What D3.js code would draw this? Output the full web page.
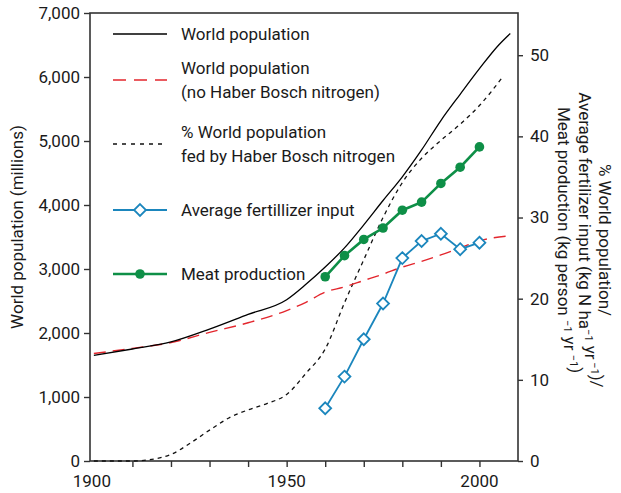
<!DOCTYPE html>
<html>
<head>
<meta charset="utf-8">
<script src="https://cdn.jsdelivr.net/npm/d3@7"></script>
<style>
  body { margin: 0; background: #fff; }
  svg text { font-family: Roboto, "Noto Sans", sans-serif; fill: #1a1a1a; }
</style>
</head>
<body>
<div id="chart"></div>
<script>
// world population (millions), left axis
const popYears = [1900, 1910, 1920, 1930, 1940, 1950, 1955, 1960, 1965, 1970, 1975, 1980, 1985, 1990, 1995, 2000, 2005, 2008];
const popValues = [1650, 1750, 1860, 2060, 2290, 2520, 2760, 3030, 3330, 3690, 4070, 4440, 4860, 5320, 5730, 6130, 6500, 6680];

// world population without Haber Bosch nitrogen, left axis
const noHbYears = [1900, 1910, 1920, 1930, 1940, 1950, 1955, 1960, 1965, 1970, 1975, 1980, 1985, 1990, 1995, 2000, 2008];
const noHbValues = [1680, 1760, 1850, 2010, 2160, 2350, 2480, 2640, 2720, 2820, 2920, 3030, 3120, 3220, 3330, 3440, 3520];

// % world population fed by Haber Bosch nitrogen, right axis
const fedYears = [1900, 1910, 1915, 1920, 1925, 1930, 1935, 1940, 1945, 1950, 1955, 1960, 1965, 1970, 1975, 1980, 1985, 1990, 1995, 2000, 2006];
const fedValues = [0, 0, 0.2, 0.8, 2.2, 3.8, 5.3, 6.3, 7.1, 8.2, 10.8, 13.8, 19.5, 24.8, 30, 34.3, 37.3, 39.5, 41.5, 43.8, 47.3];

// average fertilizer input and meat production, right axis
const pointYears = [1960, 1965, 1970, 1975, 1980, 1985, 1990, 1995, 2000];
const fertValues = [6.5, 10.4, 15.0, 19.4, 25.0, 27.1, 28.0, 26.1, 26.9];
const meatValues = [22.7, 25.3, 27.3, 28.7, 30.9, 31.9, 34.2, 36.2, 38.7];

const leftTicks = [0, 1000, 2000, 3000, 4000, 5000, 6000, 7000];
const rightTicks = [0, 10, 20, 30, 40, 50];
const xTicks = [1910, 1920, 1930, 1940, 1950, 1960, 1970, 1980, 1990, 2000];
const xLabels = [1900, 1950, 2000];

const width = 621;
const height = 493;
const margin = { top: 13, right: 103, bottom: 32, left: 90 };

const blue = '#1b86bd';
const green = '#0e8f47';
const red = '#e3262d';

const svg = d3.select('#chart')
    .append('svg')
    .attr('width', width)
    .attr('height', height);

const x = d3.scaleLinear()
    .domain([1899, 2010])
    .range([margin.left, width - margin.right]);

const yLeft = d3.scaleLinear()
    .domain([0, 7000])
    .range([height - margin.bottom, margin.top]);

const yRight = d3.scaleLinear()
    .domain([0, 55.2])
    .range([height - margin.bottom, margin.top]);

// axes
const leftAxis = svg.append('g')
    .attr('transform', `translate(${margin.left},0)`)
    .call(d3.axisLeft(yLeft).tickValues(leftTicks).tickFormat(d3.format(',')).tickSize(6).tickPadding(4));

const rightAxis = svg.append('g')
    .attr('transform', `translate(${width - margin.right},0)`)
    .call(d3.axisRight(yRight).tickValues(rightTicks).tickSize(5).tickPadding(7));

const bottomAxis = svg.append('g')
    .attr('transform', `translate(0,${height - margin.bottom})`)
    .call(d3.axisBottom(x).tickValues(xTicks).tickFormat('').tickSize(6));

[leftAxis, rightAxis, bottomAxis].forEach(a => {
    a.select('.domain').remove();
    a.selectAll('line').attr('stroke', '#333').attr('stroke-width', 1.4);
    a.selectAll('text').style('font-size', '17px').attr('fill', '#1a1a1a');
});

svg.append('g')
    .selectAll('text')
    .data(xLabels)
    .join('text')
    .attr('x', d => x(d) - (d === 1900 ? 2 : 0))
    .attr('y', height - 6)
    .attr('text-anchor', 'middle')
    .style('font-size', '17px')
    .text(d => d);

// frame
svg.append('rect')
    .attr('x', margin.left)
    .attr('y', margin.top)
    .attr('width', width - margin.left - margin.right)
    .attr('height', height - margin.top - margin.bottom)
    .attr('fill', 'none')
    .attr('stroke', '#333')
    .attr('stroke-width', 1.6);

// axis titles
svg.append('text')
    .attr('transform', `translate(23,227) rotate(-90)`)
    .attr('text-anchor', 'middle')
    .style('font-size', '17px')
    .text('World population (millions)');

const rightTitle = svg.append('g')
    .attr('transform', `translate(${width - 22},240) rotate(90)`);

const titleLines = [
    { dy: 0, parts: [['% World population/']] },
    { dy: 20, parts: [['Average fertilizer input (kg N ha'], ['−1', 1], [' yr'], [' −1', 1], [')/']] },
    { dy: 41, parts: [['Meat production (kg person '], ['−1', 1], [' yr '], ['−1', 1], [')']] },
];

titleLines.forEach(l => {
    const t = rightTitle.append('text')
        .attr('x', 0)
        .attr('y', l.dy)
        .attr('text-anchor', 'middle')
        .style('font-size', '17px');
    l.parts.forEach(p => {
        t.append('tspan')
            .attr('dy', p[1] ? -6 : 0)
            .style('font-size', p[1] ? '11px' : null)
            .text(p[0]);
        if (p[1]) t.append('tspan').attr('dy', 6).text('');
    });
});

// lines
const popLine = d3.line().x(d => x(d[0])).y(d => yLeft(d[1])).curve(d3.curveMonotoneX);
const rightLine = d3.line().x(d => x(d[0])).y(d => yRight(d[1])).curve(d3.curveMonotoneX);
const straightLine = d3.line().x(d => x(d[0])).y(d => yRight(d[1]));

svg.append('path')
    .datum(d3.zip(fedYears, fedValues))
    .attr('d', rightLine)
    .attr('fill', 'none')
    .attr('stroke', '#111')
    .attr('stroke-width', 1.3)
    .attr('stroke-dasharray', '4,4');

svg.append('path')
    .datum(d3.zip(noHbYears, noHbValues))
    .attr('d', popLine)
    .attr('fill', 'none')
    .attr('stroke', red)
    .attr('stroke-width', 1.4)
    .attr('stroke-dasharray', '12,7');

svg.append('path')
    .datum(d3.zip(popYears, popValues))
    .attr('d', popLine)
    .attr('fill', 'none')
    .attr('stroke', '#000')
    .attr('stroke-width', 1.3);

svg.append('path')
    .datum(d3.zip(pointYears, fertValues))
    .attr('d', straightLine)
    .attr('fill', 'none')
    .attr('stroke', blue)
    .attr('stroke-width', 1.8);

svg.append('path')
    .datum(d3.zip(pointYears, meatValues))
    .attr('d', straightLine)
    .attr('fill', 'none')
    .attr('stroke', green)
    .attr('stroke-width', 2.6);

const diamond = d3.symbol().type(d3.symbolDiamond2).size(90);

svg.append('g')
    .selectAll('path')
    .data(d3.zip(pointYears, fertValues))
    .join('path')
    .attr('transform', d => `translate(${x(d[0])},${yRight(d[1])})`)
    .attr('d', diamond)
    .attr('fill', '#fff')
    .attr('stroke', blue)
    .attr('stroke-width', 1.8);

svg.append('g')
    .selectAll('circle')
    .data(d3.zip(pointYears, meatValues))
    .join('circle')
    .attr('cx', d => x(d[0]))
    .attr('cy', d => yRight(d[1]))
    .attr('r', 4.8)
    .attr('fill', green);

// legend
const legendItems = [
    { y: 34, lines: ['World population'], stroke: '#000', dash: null, w: 1.3 },
    { y: 80, lines: ['World population', '(no Haber Bosch nitrogen)'], stroke: red, dash: '13,8', w: 1.4 },
    { y: 144, lines: ['% World population', 'fed by Haber Bosch nitrogen'], stroke: '#111', dash: '4,5', w: 1.3 },
    { y: 210, lines: ['Average fertillizer input'], stroke: blue, dash: null, w: 1.8, marker: 'diamond' },
    { y: 274, lines: ['Meat production'], stroke: green, dash: null, w: 2.6, marker: 'dot' },
];

const legend = svg.append('g');

legendItems.forEach(item => {
    const g = legend.append('g').attr('transform', `translate(0,${item.y})`);
    g.append('line')
        .attr('x1', 113)
        .attr('x2', 167)
        .attr('stroke', item.stroke)
        .attr('stroke-width', item.w)
        .attr('stroke-dasharray', item.dash);
    if (item.marker === 'diamond') {
        g.append('path')
            .attr('transform', 'translate(140,0)')
            .attr('d', diamond)
            .attr('fill', '#fff')
            .attr('stroke', blue)
            .attr('stroke-width', 1.8);
    }
    if (item.marker === 'dot') {
        g.append('circle').attr('cx', 140).attr('r', 4.8).attr('fill', green);
    }
    const n = item.lines.length;
    item.lines.forEach((s, i) => {
        g.append('text')
            .attr('x', 181)
            .attr('y', (i - (n - 1) / 2) * 24 + 6)
            .style('font-size', '17px')
            .text(s);
    });
});
</script>
</body>
</html>
